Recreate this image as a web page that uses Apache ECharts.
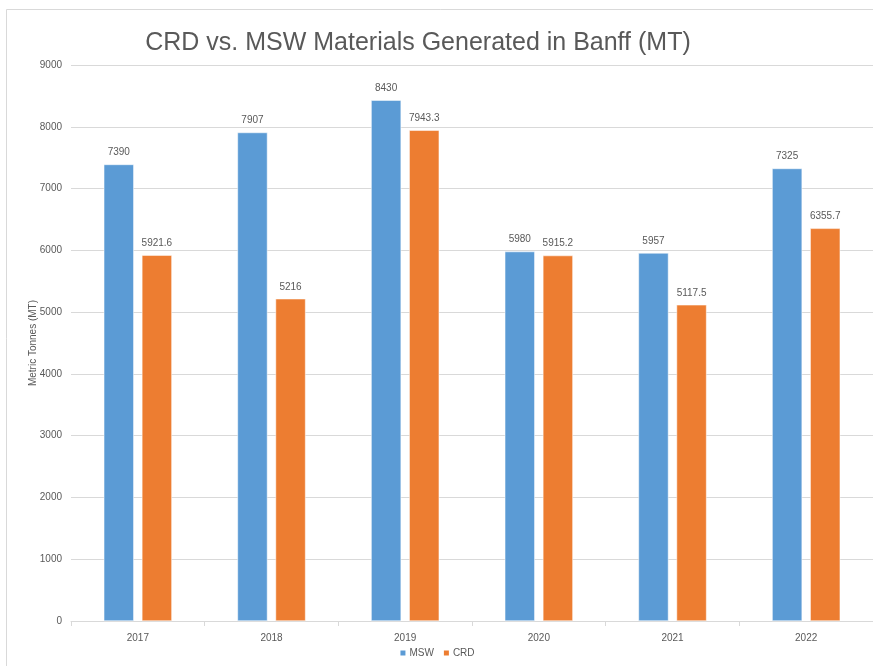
<!DOCTYPE html>
<html>
<head>
<meta charset="utf-8">
<script src="https://cdn.jsdelivr.net/npm/echarts@6/dist/echarts.min.js"></script>
<style>
  html, body { margin: 0; padding: 0; background: #ffffff; }
  #chart { width: 873px; height: 666px; }
</style>
</head>
<body>
<div id="chart"></div>
<script>
// Annual tonnages (metric tonnes)
const years = ['2017', '2018', '2019', '2020', '2021', '2022'];
const mswValues = [7390, 7907, 8430, 5980, 5957, 7325];
const crdValues = [5921.6, 5216, 7943.3, 5915.2, 5117.5, 6355.7];
const yTicks = { min: 0, max: 9000, step: 1000 };

const textColor = '#595959';
const fontFamily = '"Liberation Sans", sans-serif';

const chart = echarts.init(document.getElementById('chart'));

const labelStyle = {
  show: true,
  position: 'top',
  distance: 7,
  color: textColor,
  fontSize: 10,
  fontFamily: fontFamily,
  formatter: p => String(p.value)
};

chart.setOption({
  animation: false,
  backgroundColor: '#ffffff',
  textStyle: { fontFamily: fontFamily },
  graphic: [{
    type: 'rect',
    shape: { x: 6.5, y: 9.5, width: 900, height: 700 },
    style: { fill: 'none', stroke: '#d9d9d9', lineWidth: 1 },
    silent: true,
    z: -1
  }],
  title: {
    text: 'CRD vs. MSW Materials Generated in Banff (MT)',
    left: 413,
    textAlign: 'center',
    top: 26,
    textStyle: { color: textColor, fontSize: 25, fontWeight: 'normal', fontFamily: fontFamily }
  },
  legend: {
    bottom: 3,
    left: 'center',
    itemWidth: 7,
    itemHeight: 7,
    itemGap: 8,
    icon: 'rect',
    textStyle: { color: textColor, fontSize: 10, fontFamily: fontFamily, padding: [0, 0, 0, -2] },
    data: ['MSW', 'CRD']
  },
  grid: { left: 71, right: 0, top: 65, bottom: 45, containLabel: false },
  xAxis: {
    type: 'category',
    data: years,
    boundaryGap: true,
    axisLine: { lineStyle: { color: '#d9d9d9' } },
    axisTick: { show: true, length: 5, lineStyle: { color: '#d9d9d9' } },
    axisLabel: { color: textColor, fontSize: 10, margin: 12, fontFamily: fontFamily }
  },
  yAxis: {
    type: 'value',
    min: yTicks.min,
    max: yTicks.max,
    interval: yTicks.step,
    name: 'Metric Tonnes (MT)',
    nameLocation: 'middle',
    nameGap: 33,
    nameMoveOverlap: false,
    nameTextStyle: { color: textColor, fontSize: 10, fontFamily: fontFamily },
    axisLine: { show: false },
    axisTick: { show: false },
    axisLabel: { color: textColor, fontSize: 10, margin: 9, fontFamily: fontFamily, formatter: v => String(v) },
    splitLine: { lineStyle: { color: '#d9d9d9' } }
  },
  series: [
    {
      name: 'MSW',
      type: 'bar',
      data: mswValues,
      barWidth: 30,
      barGap: '27%',
      itemStyle: { color: '#5B9BD5', borderColor: '#ffffff', borderWidth: 0.5 },
      label: labelStyle
    },
    {
      name: 'CRD',
      type: 'bar',
      data: crdValues,
      barWidth: 30,
      barGap: '27%',
      itemStyle: { color: '#ED7D31', borderColor: '#ffffff', borderWidth: 0.5 },
      label: labelStyle
    }
  ]
});
</script>
</body>
</html>
